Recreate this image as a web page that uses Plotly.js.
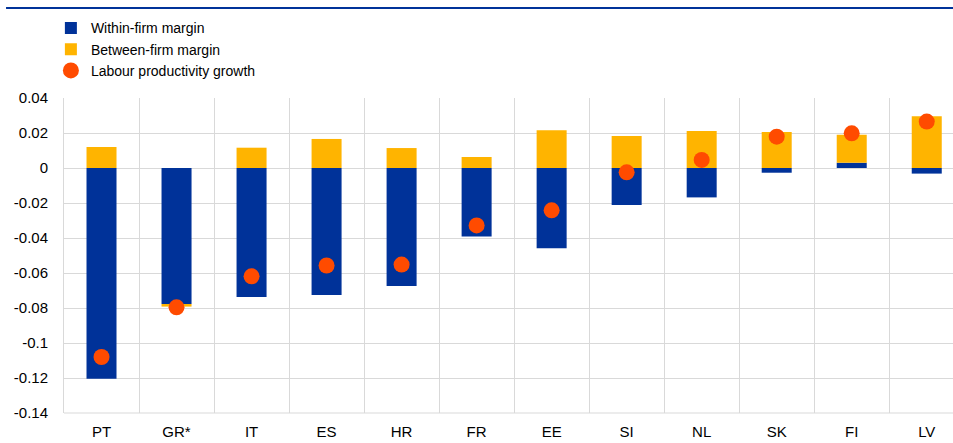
<!DOCTYPE html>
<html>
<head>
<meta charset="utf-8">
<script src="https://cdn.plot.ly/plotly-3.0.1.min.js"></script>
<style>
html,body{margin:0;padding:0;overflow:hidden;background:#fff;}
#chart{width:953px;height:443px;}
</style>
</head>
<body>
<div id="chart"></div>
<script>
const countries = ["PT", "GR*", "IT", "ES", "HR", "FR", "EE", "SI", "NL", "SK", "FI", "LV"];
const withinFirm = [-0.1205, -0.0777, -0.0737, -0.0726, -0.0674, -0.0392, -0.0459, -0.0211, -0.0168, -0.0027, 0.0030, -0.0032];
const betweenFirm = [0.0120, -0.0015, 0.0116, 0.0166, 0.0114, 0.0063, 0.0215, 0.0183, 0.0211, 0.0206, 0.0160, 0.0295];
const productivity = [-0.108, -0.0796, -0.0619, -0.0557, -0.0552, -0.0328, -0.0242, -0.0025, 0.0046, 0.0179, 0.0198, 0.0265];
const yTicks = [0.04, 0.02, 0, -0.02, -0.04, -0.06, -0.08, -0.1, -0.12, -0.14];
const yTickText = ["0.04", "0.02", "0", "-0.02", "-0.04", "-0.06", "-0.08", "-0.1", "-0.12", "-0.14"];

const font = {family: "Arial, 'Liberation Sans', sans-serif", size: 15, color: "#000"};
const legendFont = {family: "Arial, 'Liberation Sans', sans-serif", size: 14, color: "#000"};

const traces = [
  {type: "bar", name: "Within-firm margin", x: countries, y: withinFirm,
   marker: {color: "#003299"}, width: 0.4},
  {type: "bar", name: "Between-firm margin", x: countries, y: betweenFirm,
   marker: {color: "#FFB400"}, width: 0.4},
  {type: "scatter", mode: "markers", name: "Labour productivity growth", x: countries, y: productivity,
   marker: {color: "#FF4B00", size: 16}}
];

const layout = {
  width: 953, height: 443,
  margin: {l: 64, r: 0, t: 98, b: 30, pad: 0, autoexpand: false},
  paper_bgcolor: "#fff", plot_bgcolor: "#fff",
  font: font,
  barmode: "relative",
  showlegend: true,
  legend: {xref: "container", yref: "container", x: 0.0534, y: 0.972, xanchor: "left", yanchor: "top",
           font: legendFont, tracegroupgap: 0, itemclick: false, bgcolor: "rgba(0,0,0,0)"},
  xaxis: {type: "category", range: [-0.5, 11.35], tickson: "boundaries",
          showgrid: true, gridcolor: "#d9d9d9", gridwidth: 1,
          showline: false, zeroline: false, ticks: "", ticklabelstandoff: 8, tickfont: font, fixedrange: true},
  yaxis: {range: [-0.14, 0.04], tickvals: yTicks, ticktext: yTickText,
          showgrid: true, gridcolor: "#d9d9d9", gridwidth: 1,
          showline: true, linecolor: "#d9d9d9", linewidth: 1, zeroline: false,
          ticks: "", ticklabelstandoff: 12, tickfont: font, fixedrange: true},
  shapes: [
    {type: "line", xref: "paper", yref: "paper", x0: -0.0652, x1: 1, y0: 1.2857, y1: 1.2857,
     line: {color: "#003299", width: 2}},
    {type: "line", xref: "paper", yref: "paper", x0: 0, x1: 1, y0: 0, y1: 0,
     line: {color: "#d9d9d9", width: 1}}
  ]
};

Plotly.newPlot("chart", traces, layout, {displayModeBar: false, staticPlot: true});
</script>
</body>
</html>
